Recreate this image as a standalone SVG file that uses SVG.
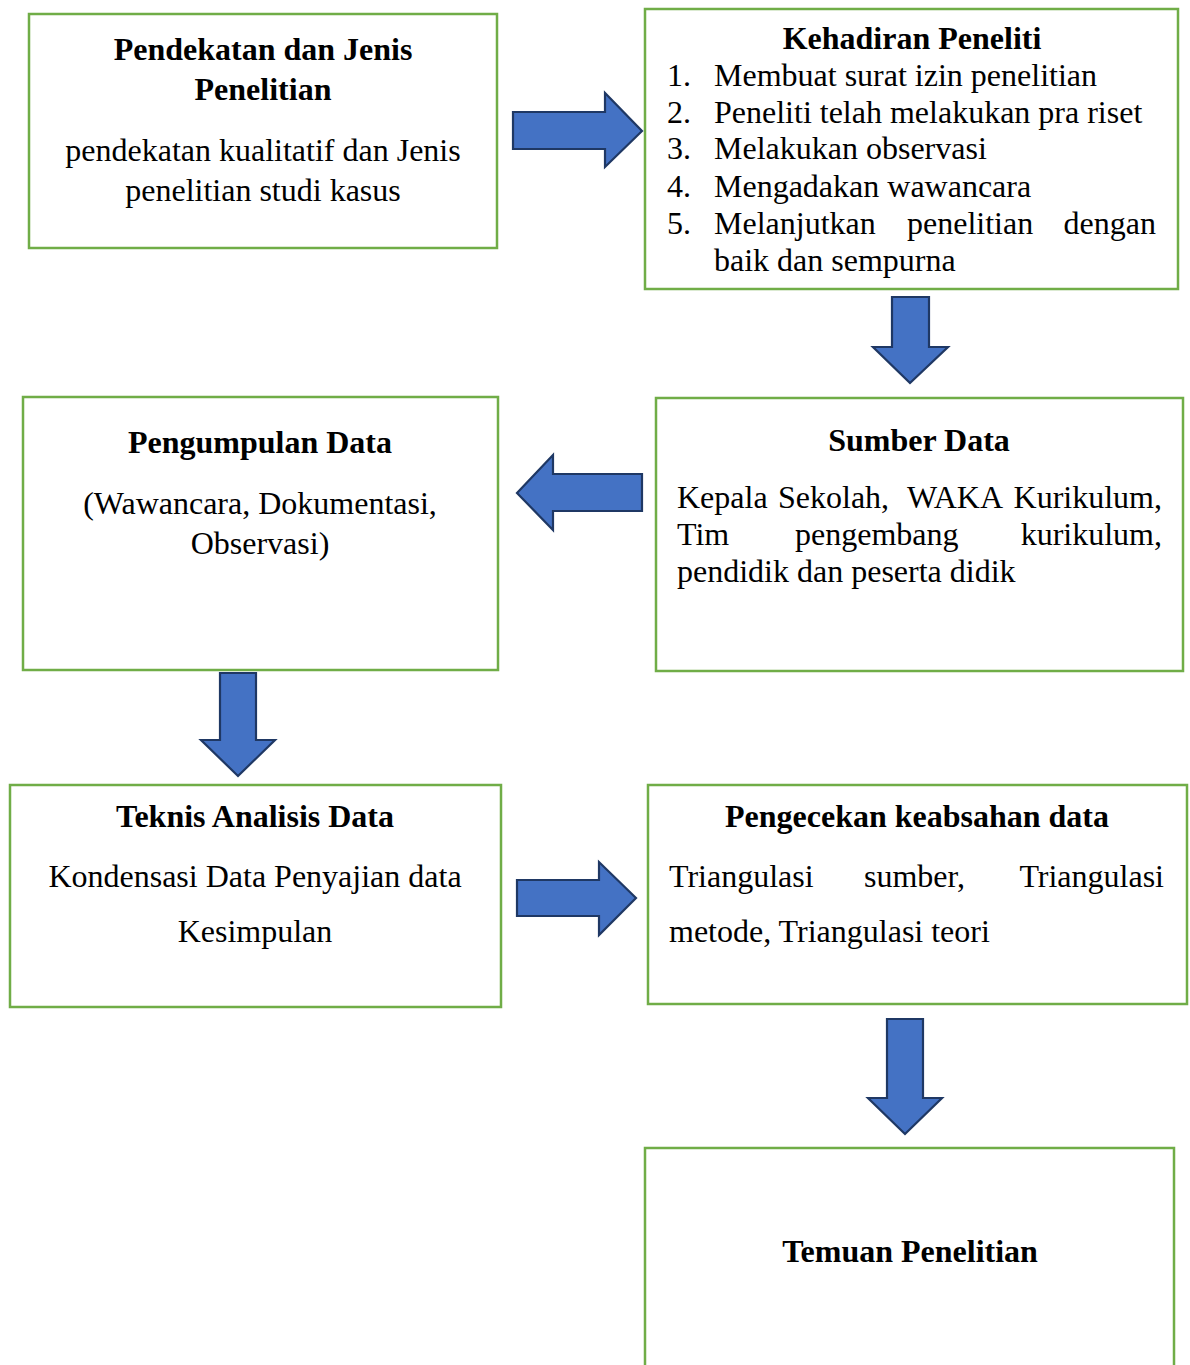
<svg xmlns="http://www.w3.org/2000/svg" width="1190" height="1365" viewBox="0 0 1190 1365">
<style>
.box{fill:#fff;stroke:#70AD47;stroke-width:2.5}
.t{font-family:"Liberation Serif","Times New Roman",serif;font-size:32px;fill:#000}
.b{font-weight:bold}
.c{text-anchor:middle}
.e{text-anchor:end}
.arr{fill:#4472C4;stroke:#1F3864;stroke-width:2.2;stroke-linejoin:miter}
</style>
<rect width="1190" height="1365" fill="#fff"/>
<g id="n1">
<rect class="box" x="29" y="14" width="468" height="234"/>
<text class="t b c" x="263" y="60">Pendekatan dan Jenis</text>
<text class="t b c" x="263" y="100">Penelitian</text>
<text class="t c" x="263" y="161">pendekatan kualitatif dan Jenis</text>
<text class="t c" x="263" y="201">penelitian studi kasus</text>
</g>
<g id="n2">
<rect class="box" x="645" y="9" width="533" height="280"/>
<text class="t b c" x="912" y="49">Kehadiran Peneliti</text>
<text class="t" x="667" y="86">1.</text><text class="t" x="714" y="86">Membuat surat izin penelitian</text>
<text class="t" x="667" y="123">2.</text><text class="t" x="714" y="123">Peneliti telah melakukan pra riset</text>
<text class="t" x="667" y="159">3.</text><text class="t" x="714" y="159">Melakukan observasi</text>
<text class="t" x="667" y="197">4.</text><text class="t" x="714" y="197">Mengadakan wawancara</text>
<text class="t" x="667" y="234">5.</text><text class="t" x="714" y="234">Melanjutkan</text><text class="t" x="907" y="234">penelitian</text><text class="t e" x="1156" y="234">dengan</text>
<text class="t" x="714" y="271">baik dan sempurna</text>
</g>
<g id="n3">
<rect class="box" x="656" y="398" width="527" height="273"/>
<text class="t b c" x="919" y="451">Sumber Data</text>
<text class="t" x="677" y="508">Kepala</text><text class="t" x="778" y="508">Sekolah,</text><text class="t" x="907" y="508">WAKA</text><text class="t e" x="1162" y="508">Kurikulum,</text>
<text class="t" x="677" y="545">Tim</text><text class="t" x="795" y="545">pengembang</text><text class="t e" x="1162" y="545">kurikulum,</text>
<text class="t" x="677" y="582">pendidik dan peserta didik</text>
</g>
<g id="n4">
<rect class="box" x="23" y="397" width="475" height="273"/>
<text class="t b c" x="260" y="453">Pengumpulan Data</text>
<text class="t c" x="260" y="514">(Wawancara, Dokumentasi,</text>
<text class="t c" x="260" y="554">Observasi)</text>
</g>
<g id="n5">
<rect class="box" x="10" y="785" width="491" height="222"/>
<text class="t b c" x="255" y="827">Teknis Analisis Data</text>
<text class="t c" x="255" y="887">Kondensasi Data Penyajian data</text>
<text class="t c" x="255" y="942">Kesimpulan</text>
</g>
<g id="n6">
<rect class="box" x="648" y="785" width="539" height="219"/>
<text class="t b c" x="917" y="827">Pengecekan keabsahan data</text>
<text class="t" x="669" y="887">Triangulasi</text><text class="t" x="864" y="887">sumber,</text><text class="t e" x="1164" y="887">Triangulasi</text>
<text class="t" x="669" y="942">metode, Triangulasi teori</text>
</g>
<g id="n7">
<rect class="box" x="645" y="1148" width="529" height="230"/>
<text class="t b c" x="910" y="1262">Temuan Penelitian</text>
</g>
<g id="connectors">
<polygon class="arr" points="513,112 605,112 605,93 642,131 605,167 605,149 513,149"/>
<polygon class="arr" points="892,297 929,297 929,347 948,347 910,383 873,347 892,347"/>
<polygon class="arr" points="642,474 553,474 553,455 517,493 553,530 553,511 642,511"/>
<polygon class="arr" points="220,673 256,673 256,740 275,740 238,776 201,740 220,740"/>
<polygon class="arr" points="517,880 599,880 599,862 636,898 599,935 599,916 517,916"/>
<polygon class="arr" points="887,1019 923,1019 923,1098 942,1098 905,1134 868,1098 887,1098"/>
</g>
</svg>
